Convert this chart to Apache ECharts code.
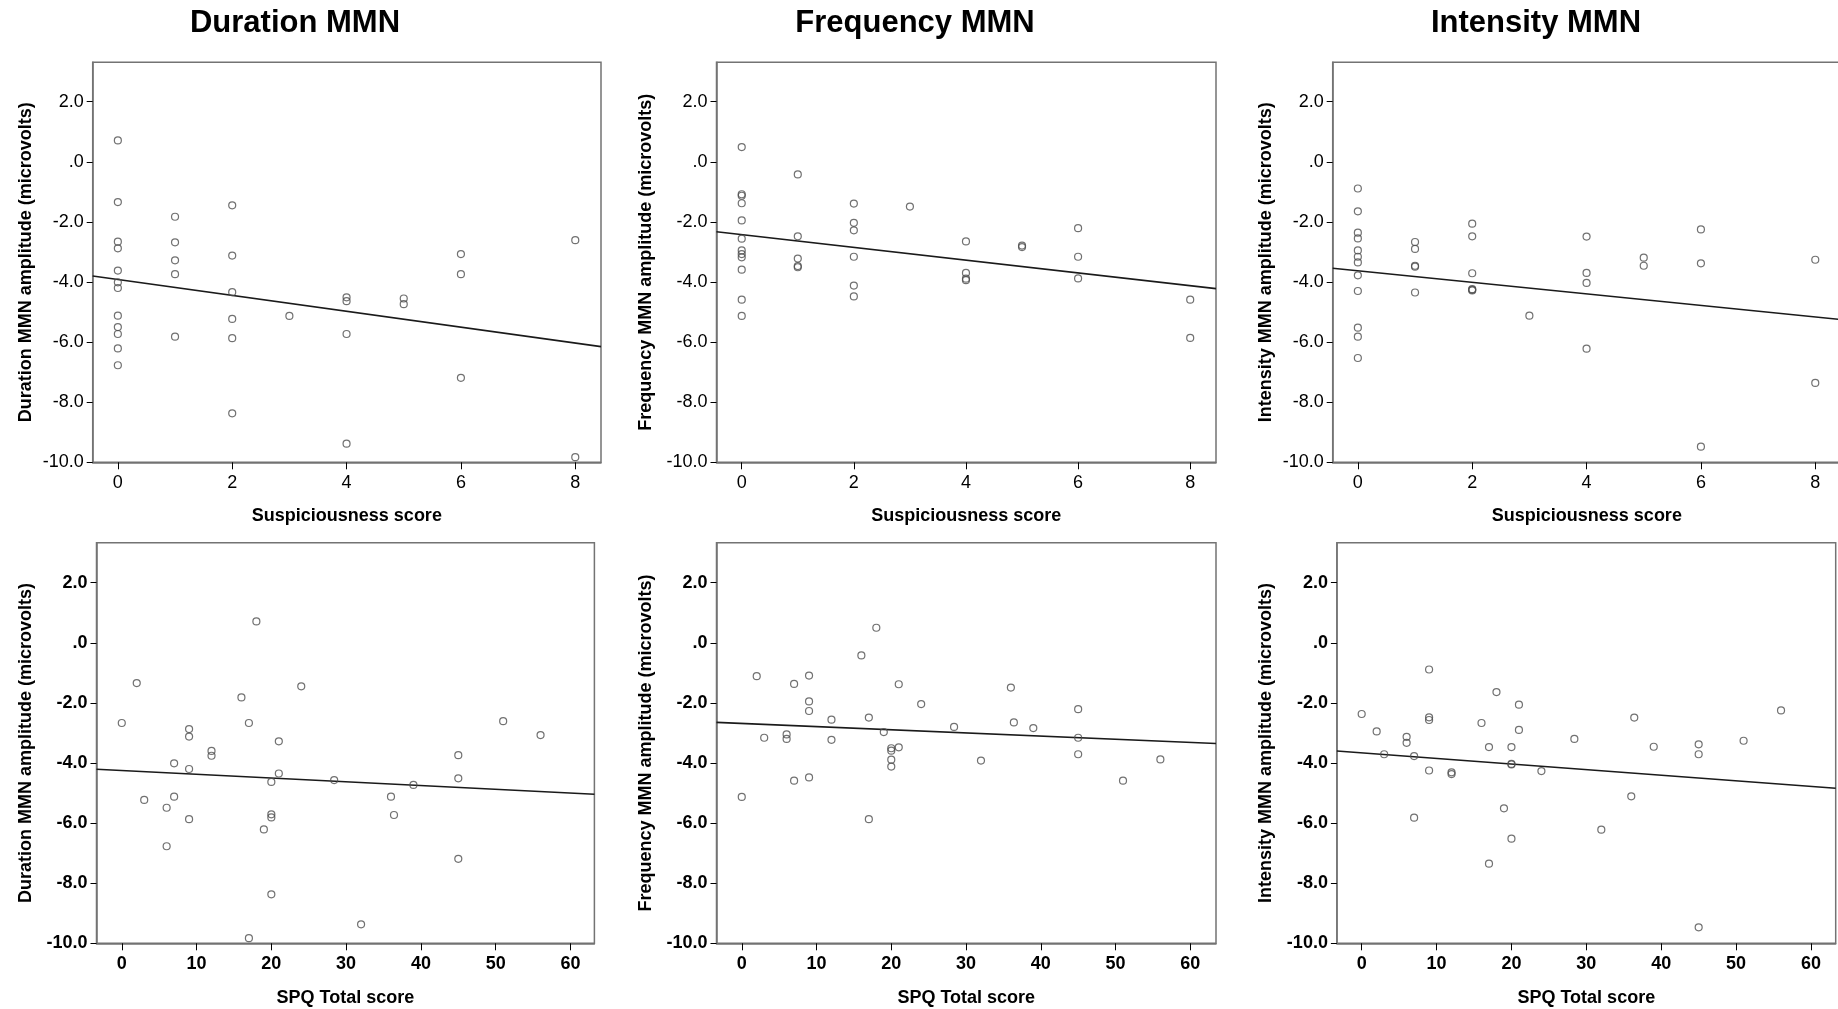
<!DOCTYPE html>
<html>
<head>
<meta charset="utf-8">
<title>MMN amplitude vs scores</title>
<script src="https://cdn.jsdelivr.net/npm/echarts@6/dist/echarts.min.js"></script>
<style>
  html, body { margin: 0; padding: 0; background: #fff; }
  #main { width: 1838px; height: 1009px; }
</style>
</head>
<body>
<div id="main"></div>
<script>
// suspiciousness score, one entry per subject (shared by the 3 top plots)
const suspScore = [0,0,0,0,0,0,0,0,0,0,0,0, 1,1,1,1,1, 2,2,2,2,2,2, 3, 4,4,4,4, 5,5, 6,6,6, 8,8];
const durSusp = [0.71,-1.34,-2.66,-2.88,-3.62,-4.01,-4.20,-5.12,-5.50,-5.73,-6.21,-6.77,
                 -1.83,-2.68,-3.28,-3.74,-5.82, -1.45,-3.12,-4.34,-5.23,-5.87,-8.37, -5.13,
                 -4.51,-4.64,-5.73,-9.38, -4.55,-4.74, -3.07,-3.74,-7.19, -2.61,-9.83];
const freqSusp = [0.49,-1.08,-1.13,-1.38,-1.95,-2.56,-2.95,-3.07,-3.18,-3.59,-4.59,-5.13,
                  -0.42,-2.48,-3.22,-3.47,-3.51, -1.39,-2.03,-2.28,-3.16,-4.12,-4.48, -1.49,
                  -2.65,-3.70,-3.89,-3.94, -2.79,-2.84, -2.21,-3.16,-3.88, -4.59,-5.86];
const intSusp = [-0.89,-1.65,-2.36,-2.55,-2.95,-3.16,-3.35,-3.78,-4.30,-5.52,-5.82,-6.53,
                 -2.67,-2.90,-3.46,-3.49,-4.35, -2.06,-2.48,-3.71,-4.24,-4.26,-4.28, -5.12,
                 -2.49,-3.70,-4.03,-6.22, -3.19,-3.46, -2.25,-3.38,-9.48, -3.26,-7.36];

// SPQ total score, one entry per subject (shared by the 3 bottom plots)
const spqScore = [0,2,3,6,6,7,7,9,9,9,9,12,12,16,17,17,18,19,20,20,20,20,21,21,24,28.4,32,36,36.4,39,45,45,45,51,56];
const durSpq = [-2.67,-1.34,-5.23,-5.49,-6.77,-4.01,-5.12,-2.87,-3.12,-4.20,-5.87,-3.60,-3.76,-1.82,-2.67,-9.83,
                0.71,-6.21,-4.63,-5.71,-5.81,-8.37,-3.28,-4.35,-1.45,-4.57,-9.37,-5.12,-5.73,-4.73,-3.74,-4.51,-7.19,-2.61,-3.07];
const freqSpq = [-5.13,-1.11,-3.16,-3.05,-3.20,-1.37,-4.59,-1.09,-1.95,-2.27,-4.48,-2.56,-3.23,-0.42,-2.49,-5.87,
                 0.50,-2.97,-3.51,-3.59,-3.89,-4.12,-1.38,-3.48,-2.04,-2.80,-3.92,-1.49,-2.65,-2.84,-2.21,-3.16,-3.71,-4.59,-3.88];
const intSpq = [-2.37,-2.95,-3.71,-3.13,-3.33,-3.77,-5.82,-0.89,-2.48,-2.57,-4.25,-4.31,-4.37,-2.67,-3.47,-7.35,
                -1.64,-5.51,-3.47,-4.03,-4.05,-6.52,-2.06,-2.90,-4.27,-3.20,-6.22,-5.11,-2.49,-3.46,-3.38,-3.71,-9.47,-3.26,-2.25];

// fit line, y at left and right edge of the x axis
const durSuspFit = [-3.80, -6.15];
const freqSuspFit = [-2.33, -4.22];
const intSuspFit = [-3.545, -5.25];
const durSpqFit = [-4.21, -5.04];
const freqSpqFit = [-2.65, -3.35];
const intSpqFit = [-3.60, -4.84];

// ticks
const yTicks = [-10, -8, -6, -4, -2, 0, 2];
const yTickText = ['-10.0', '-8.0', '-6.0', '-4.0', '-2.0', '.0', '2.0'];
const suspTicks = [0, 2, 4, 6, 8];
const spqTicks = [0, 10, 20, 30, 40, 50, 60];

const titles = ['Duration MMN', 'Frequency MMN', 'Intensity MMN'];
const yNames = ['Duration MMN amplitude (microvolts)', 'Frequency MMN amplitude (microvolts)', 'Intensity MMN amplitude (microvolts)'];

const FONT = '"Liberation Sans", Arial, sans-serif';

const panels = [
    { xs: suspScore, ys: durSusp, fit: durSuspFit, xName: 'Suspiciousness score', yName: yNames[0], ticks: suspTicks, range: [-0.44, 8.45], bold: false,
      box: { left: 92.7, top: 62.3, width: 508.3, height: 400 }, gap: 58, xGap: 45 },
    { xs: suspScore, ys: freqSusp, fit: freqSuspFit, xName: 'Suspiciousness score', yName: yNames[1], ticks: suspTicks, range: [-0.45, 8.46], bold: false,
      box: { left: 716.5, top: 62.3, width: 499.5, height: 400 }, gap: 61, xGap: 45 },
    { xs: suspScore, ys: intSusp, fit: intSuspFit, xName: 'Suspiciousness score', yName: yNames[2], ticks: suspTicks, range: [-0.44, 8.45], bold: false,
      box: { left: 1332.7, top: 62.3, width: 508.3, height: 400 }, gap: 58, xGap: 45 },
    { xs: spqScore, ys: durSpq, fit: durSpqFit, xName: 'SPQ Total score', yName: yNames[0], ticks: spqTicks, range: [-3.38, 63.2], bold: true,
      box: { left: 96.5, top: 542.7, width: 497.9, height: 400.6 }, gap: 61, xGap: 46 },
    { xs: spqScore, ys: freqSpq, fit: freqSpqFit, xName: 'SPQ Total score', yName: yNames[1], ticks: spqTicks, range: [-3.38, 63.44], bold: true,
      box: { left: 716.5, top: 542.7, width: 499.5, height: 400.6 }, gap: 61, xGap: 46 },
    { xs: spqScore, ys: intSpq, fit: intSpqFit, xName: 'SPQ Total score', yName: yNames[2], ticks: spqTicks, range: [-3.31, 63.3], bold: true,
      box: { left: 1336.9, top: 542.7, width: 498.8, height: 400.6 }, gap: 62, xGap: 46 }
];

const grid = [], xAxis = [], yAxis = [], series = [];

panels.forEach((p, i) => {
    grid.push(Object.assign({
        show: true, borderColor: '#737373', borderWidth: 1.5,
        backgroundColor: '#fff', containLabel: false, outerBoundsMode: 'none'
    }, p.box));

    xAxis.push({
        gridIndex: i, type: 'value', min: p.range[0], max: p.range[1],
        name: p.xName, nameLocation: 'middle', nameGap: p.xGap,
        nameTextStyle: { fontFamily: FONT, fontSize: 18, fontWeight: 'bold', color: '#000' },
        axisLine: { show: true, onZero: false, lineStyle: { color: '#737373', width: 1.5 } },
        axisTick: { show: true, customValues: p.ticks, length: 7, lineStyle: { color: '#000', width: 1 } },
        axisLabel: { customValues: p.ticks, margin: 12, fontFamily: FONT, fontSize: 18,
                     fontWeight: p.bold ? 'bold' : 'normal', color: '#000' },
        splitLine: { show: false }
    });

    yAxis.push({
        gridIndex: i, type: 'value', min: -10, max: i < 3 ? 3.31 : 3.33,
        name: p.yName, nameLocation: 'middle', nameGap: p.gap, nameRotate: 90,
        nameTextStyle: { fontFamily: FONT, fontSize: 18, fontWeight: 'bold', color: '#000' },
        axisLine: { show: true, onZero: false, lineStyle: { color: '#737373', width: 1.5 } },
        axisTick: { show: true, customValues: yTicks, length: 6, lineStyle: { color: '#000', width: 1 } },
        axisLabel: {
            customValues: yTicks, margin: 9, fontFamily: FONT, fontSize: 18,
            fontWeight: p.bold ? 'bold' : 'normal', color: '#000',
            formatter: v => yTickText[yTicks.indexOf(Math.round(v))]
        },
        splitLine: { show: false }
    });

    series.push({
        type: 'scatter', xAxisIndex: i, yAxisIndex: i,
        data: p.xs.map((x, k) => [x, p.ys[k]]),
        symbol: 'circle', symbolSize: 7,
        itemStyle: { color: 'rgba(255,255,255,0)', borderColor: '#4d4d4d', borderWidth: 1.2 },
        silent: true, z: 3
    });

    series.push({
        type: 'line', xAxisIndex: i, yAxisIndex: i,
        data: [[p.range[0], p.fit[0]], [p.range[1], p.fit[1]]],
        symbol: 'none', lineStyle: { color: '#1a1a1a', width: 1.6 },
        silent: true, z: 2
    });
});

const titleX = [295, 915, 1536];
const graphic = titles.map((t, i) => ({
    type: 'text', x: titleX[i], y: 23,
    style: { text: t, textAlign: 'center', textVerticalAlign: 'middle',
             fontFamily: FONT, fontSize: 31, fontWeight: 'bold', fill: '#000' }
}));

const chart = echarts.init(document.getElementById('main'));
chart.setOption({
    animation: false,
    backgroundColor: '#fff',
    grid: grid,
    xAxis: xAxis,
    yAxis: yAxis,
    series: series,
    graphic: graphic
});
</script>
</body>
</html>
